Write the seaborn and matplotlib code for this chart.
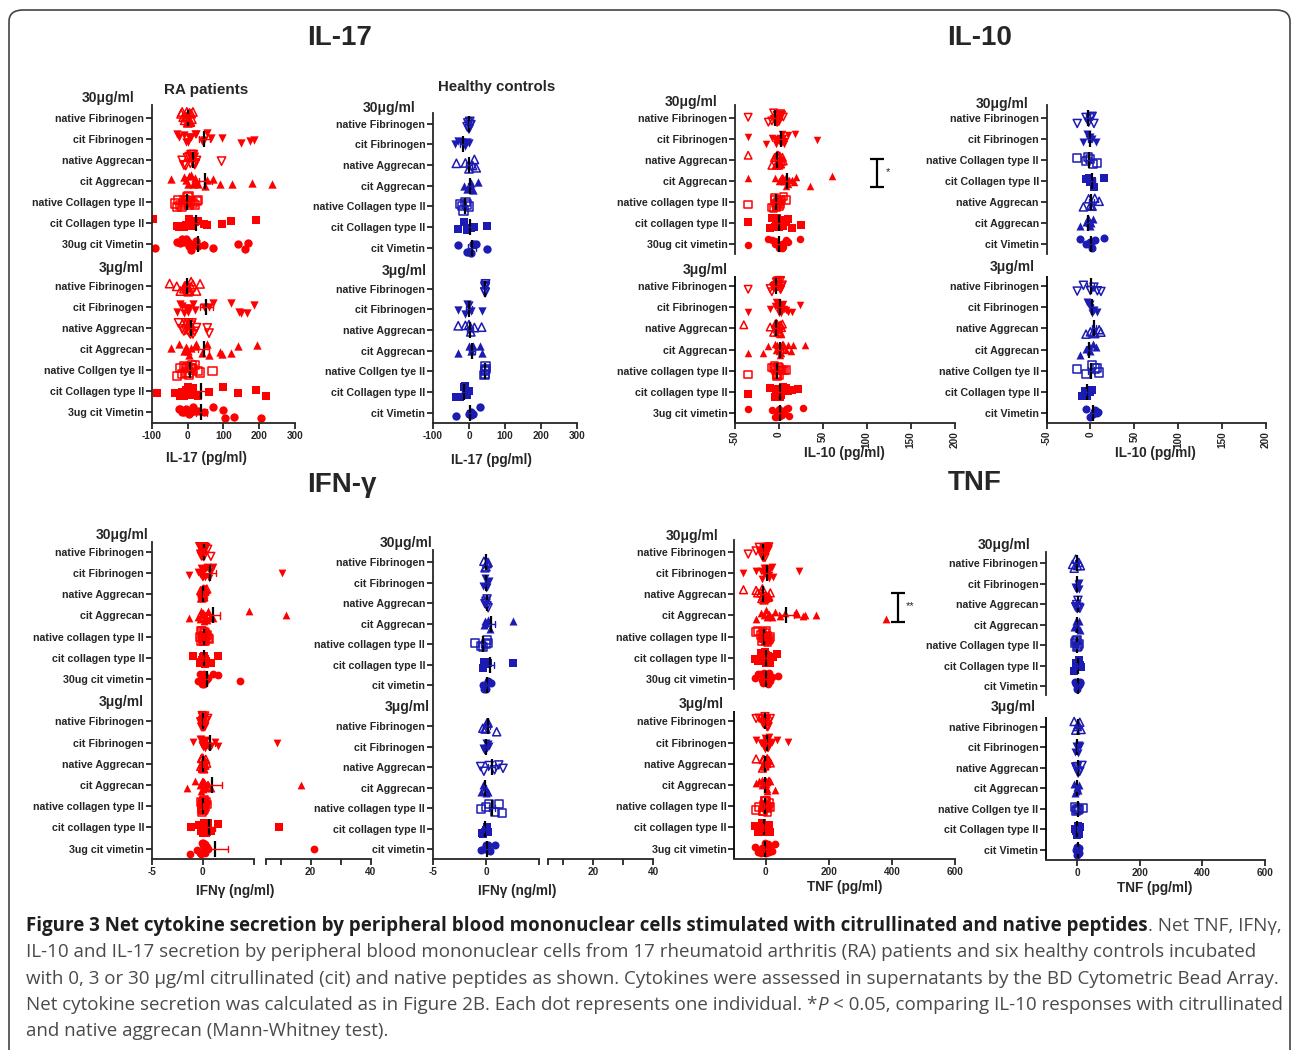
import numpy as np
import pandas as pd
import matplotlib
matplotlib.use("Agg")
import matplotlib.pyplot as plt
import seaborn as sns
from matplotlib.patches import FancyBboxPatch

sns.set_style("ticks")
plt.rcParams["font.family"] = ["Liberation Sans", "DejaVu Sans"]
np.random.seed(11)  # only for the strip jitter

W, H = 1293, 1050
RED = "#ff0000"
BLUE = "#1c1cb4"

# ---------------- row labels ----------------
il17_ra_labels = ["native Fibrinogen", "cit Fibrinogen", "native Aggrecan", "cit Aggrecan",
                  "native Collagen type II", "cit Collagen type II", "30ug cit Vimetin",
                  "native Fibrinogen", "cit Fibrinogen", "native Aggrecan", "cit Aggrecan",
                  "native Collgen tye II", "cit Collagen type II", "3ug cit Vimetin"]
il17_hc_labels = ["native Fibrinogen", "cit Fibrinogen", "native Aggrecan", "cit Aggrecan",
                  "native Collagen type II", "cit Collagen type II", "cit Vimetin",
                  "native Fibrinogen", "cit Fibrinogen", "native Aggrecan", "cit Aggrecan",
                  "native Collgen tye II", "cit Collagen type II", "cit Vimetin"]
il10_ra_labels = ["native Fibrinogen", "cit Fibrinogen", "native Aggrecan", "cit Aggrecan",
                  "native collagen type II", "cit collagen type II", "30ug cit vimetin",
                  "native Fibrinogen", "cit Fibrinogen", "native Aggrecan", "cit Aggrecan",
                  "native collagen type II", "cit collagen type II", "3ug cit vimetin"]
il10_hc_labels = ["native Fibrinogen", "cit Fibrinogen", "native Collagen type II", "cit Collagen type II",
                  "native Aggrecan", "cit Aggrecan", "cit Vimetin",
                  "native Fibrinogen", "cit Fibrinogen", "native Aggrecan", "cit Aggrecan",
                  "native Collgen tye II", "cit Collagen type II", "cit Vimetin"]
ifn_ra_labels = ["native Fibrinogen", "cit Fibrinogen", "native Aggrecan", "cit Aggrecan",
                 "native collagen type II", "cit collagen type II", "30ug cit vimetin",
                 "native Fibrinogen", "cit Fibrinogen", "native Aggrecan", "cit Aggrecan",
                 "native collagen type II", "cit collagen type II", "3ug cit vimetin"]
ifn_hc_labels = ["native Fibrinogen", "cit Fibrinogen", "native Aggrecan", "cit Aggrecan",
                 "native collagen type II", "cit collagen type II", "cit vimetin",
                 "native Fibrinogen", "cit Fibrinogen", "native Aggrecan", "cit Aggrecan",
                 "native collagen type II", "cit collagen type II", "cit vimetin"]
tnf_ra_labels = ["native Fibrinogen", "cit Fibrinogen", "native Aggrecan", "cit Aggrecan",
                 "native collagen type II", "cit collagen type II", "30ug cit vimetin",
                 "native Fibrinogen", "cit Fibrinogen", "native Aggrecan", "cit Aggrecan",
                 "native collagen type II", "cit collagen type II", "3ug cit vimetin"]
tnf_hc_labels = ["native Fibrinogen", "cit Fibrinogen", "native Aggrecan", "cit Aggrecan",
                 "native Collagen type II", "cit Collagen type II", "cit Vimetin",
                 "native Fibrinogen", "cit Fibrinogen", "native Aggrecan", "cit Aggrecan",
                 "native Collgen tye II", "cit Collagen type II", "cit Vimetin"]

# ---------------- values (rows 0-6 = 30 ug/ml, rows 7-13 = 3 ug/ml) ----------------
# IL-17, pg/ml, RA patients
il17_ra = [
    [-18, -15, -12, -8, -5, -3, -2, 0, 1, 2, 4, 5, 6, 8, 10, 12, 15],
    [-30, -25, -10, -5, 0, 5, 10, 20, 25, 40, 45, 55, 65, 95, 150, 175, 185],
    [-15, -10, -5, 0, 5, 8, 10, 12, 14, 15, 16, 18, 19, 20, 22, 25, 95],
    [-45, -10, -5, 0, 5, 10, 15, 20, 25, 30, 50, 55, 70, 90, 125, 180, 235],
    [-35, -30, -25, -20, -15, -10, -8, -5, -3, 0, 3, 5, 10, 15, 20, 25, 30],
    [-95, -30, -25, -20, -10, -5, 0, 5, 10, 15, 20, 30, 45, 55, 95, 120, 190],
    [-90, -30, -20, -15, -10, -5, 0, 5, 10, 15, 25, 30, 45, 70, 140, 160, 170],
    [-50, -30, -20, -10, -8, -5, -3, 0, 0, 2, 5, 5, 10, 10, 15, 25, 35],
    [-30, -20, -15, -10, -5, 0, 5, 15, 20, 45, 60, 70, 120, 145, 150, 165, 185],
    [-25, -15, -10, -5, -5, 0, 2, 3, 5, 8, 10, 12, 15, 20, 25, 55, 60],
    [-45, -25, -10, -5, 0, 5, 10, 20, 25, 40, 55, 60, 90, 95, 120, 140, 195],
    [-30, -20, -15, -10, -5, -5, 0, 3, 5, 8, 10, 12, 15, 20, 30, 35, 70],
    [-85, -35, -20, -15, -10, -5, 0, 5, 10, 15, 20, 30, 60, 100, 140, 190, 220],
    [-25, -20, -15, -10, -5, 0, 5, 10, 15, 20, 30, 45, 70, 100, 105, 130, 205],
]
# IL-17, pg/ml, healthy controls
il17_hc = [
    [-5, -3, 0, 2, 3, 5],
    [-40, -30, -20, -10, -5, 0],
    [-35, -10, 0, 10, 15, 20],
    [-15, -5, 0, 5, 10, 25],
    [-25, -20, -15, -10, -5, 0],
    [-30, -15, -5, 5, 15, 50],
    [-30, -5, 5, 10, 20, 50],
    [44, 45, 45, 45, 46, 45],
    [-30, -10, -5, 0, 5, 35],
    [-30, -10, 0, 5, 15, 35],
    [-30, 0, 5, 10, 30, 35],
    [43, 44, 45, 45, 46, 47],
    [-35, -25, -15, -10, -5, 0],
    [-35, 0, 5, 5, 10, 30],
]
# IL-10, pg/ml, RA patients
il10_ra = [
    [-35, -12, -8, -5, -4, -3, -2, -1, 0, 0, 1, 2, 3, 5, -6, -3, -2],
    [-35, -15, -8, -5, -3, 0, 2, 3, 5, 7, 10, 18, 43, -2, 1, 4, 6],
    [-35, -8, -5, -4, -3, -2, -1, 0, 1, 2, 3, 4, 5, -2, 0, 1, -1],
    [-35, -5, 0, 2, 5, 6, 8, 10, 12, 15, 17, 20, 35, 60, 5, 8, 3],
    [-35, -8, -6, -5, -4, -3, -2, 0, 2, 5, 8, -3, -1, 1, 3, -5, -2],
    [-35, -10, -8, -5, -2, 0, 2, 5, 8, 10, 15, 25, -3, 0, 3, 1, -1],
    [-35, -12, -8, -5, -3, 0, 2, 4, 6, 8, 10, 24, -2, 1, 3, -4, 5],
    [-35, -10, -8, -6, -4, -2, 0, 2, 3, 4, -3, -1, 1, -5, 0, 2, -2],
    [-35, -10, -5, 0, 2, 4, 6, 8, 10, 15, 24, -3, 1, 3, 5, -2, 0],
    [-40, -10, -6, -4, -3, -2, -1, 0, 1, 2, 3, 4, -2, 0, 1, -3, 2],
    [-35, -18, -12, -5, 0, 2, 5, 8, 10, 14, 16, 30, -3, 1, 4, -2, 3],
    [-35, -8, -6, -4, -2, 0, 2, 4, 6, 8, -3, -1, 1, -5, 0, 3, -2],
    [-35, -10, -5, -2, 0, 2, 5, 8, 10, 12, 15, 22, -3, 1, 3, -1, 4],
    [-35, -8, -5, -3, 0, 2, 4, 6, 8, 10, 12, 28, -2, 1, 3, 5, -1],
]
# IL-10, pg/ml, healthy controls
il10_hc = [
    [-15, -5, -2, 0, 2, 4],
    [-8, -4, -2, 0, 2, 6],
    [-15, -5, -3, 0, 3, 8],
    [-5, -2, 0, 2, 4, 15],
    [-8, -2, 0, 2, 5, 10],
    [-12, -5, -3, -1, 1, 3],
    [-12, -5, 0, 2, 5, 15],
    [-15, -8, 0, 4, 8, 12],
    [-4, -2, 0, 2, 4, 8],
    [-5, 0, 3, 5, 10, 12],
    [-12, -5, -2, 0, 3, 6],
    [-15, -5, 2, 5, 8, 10],
    [-10, -6, -4, -2, 0, 2],
    [-5, 0, 3, 5, 8, 9],
]
# IFN-gamma, ng/ml, RA patients
ifn_ra = [
    [-0.3, -0.2, -0.1, 0, 0, 0.1, 0.2, 0.3, 0.5, 0.8, -0.1, 0, 0.1, 0.2, 0, -0.2, 0.1],
    [-1.3, -0.5, -0.3, -0.1, 0, 0.1, 0.2, 0.4, 0.6, 0.8, 1.0, 10.3, -0.2, 0, 0.3, 0.5, -0.1],
    [-0.2, -0.1, 0, 0, 0.1, 0.2, 0.3, 0.4, -0.1, 0, 0.1, 0.2, -0.05, 0, 0.1, 0.05, 0],
    [-1.3, -0.5, -0.2, 0, 0.1, 0.2, 0.3, 0.5, 0.7, 1.0, 4.5, 11.7, -0.1, 0, 0.2, 0.4, -0.3],
    [-0.3, -0.2, 0, 0, 0.1, 0.2, 0.3, 0.5, 0.6, -0.1, 0, 0.1, 0.2, -0.2, 0, 0.1, 0.4],
    [-1.0, -0.3, -0.1, 0, 0.1, 0.2, 0.4, 0.6, 0.8, 1.5, -0.2, 0, 0.1, 0.3, -0.1, 0, 0.2],
    [-0.5, -0.3, -0.1, 0, 0.1, 0.2, 0.3, 0.5, 1.0, 1.5, 3.7, -0.2, 0, 0.1, -0.1, 0.2, 0],
    [-0.2, -0.1, 0, 0, 0.1, 0.2, 0.3, 0.5, -0.1, 0, 0.1, 0.2, 0, 0.1, -0.05, 0.05, 0],
    [-1.0, -0.3, -0.1, 0, 0.1, 0.3, 0.5, 0.8, 1.2, 1.5, 8.9, -0.2, 0, 0.2, 0.4, -0.1, 0.1],
    [-0.2, -0.1, 0, 0, 0.1, 0.2, 0.4, -0.1, 0, 0.1, 0.2, 0, 0.1, -0.05, 0.05, 0, 0.3],
    [-1.5, -0.8, -0.3, -0.1, 0, 0.1, 0.3, 0.5, 0.8, 16.7, -0.2, 0, 0.2, 0.4, -0.1, 0.1, 0],
    [-0.2, -0.1, 0, 0, 0.1, 0.2, 0.3, 0.4, -0.1, 0, 0.1, 0.2, 0, 0.1, 0, 0.05, -0.05],
    [-1.1, -0.4, -0.2, 0, 0.1, 0.3, 0.5, 0.8, 1.5, 9.3, -0.1, 0, 0.2, 0.4, -0.2, 0.1, 0],
    [-1.2, -0.6, -0.2, 0, 0.1, 0.2, 0.3, 0.5, 21.0, -0.1, 0, 0.2, 0.4, -0.3, 0.1, 0, 0.2],
]
# IFN-gamma, ng/ml, healthy controls
ifn_hc = [
    [-0.2, -0.1, 0, 0.1, 0.2, 0.1],
    [-0.3, -0.1, 0, 0.1, 0.2, 0.3],
    [-0.1, 0, 0, 0.1, 0.1, 0.2],
    [-0.2, -0.1, 0, 0.2, 0.4, 2.5],
    [-1.0, -0.5, -0.3, 0, 0.1, 0.2],
    [-0.3, -0.2, -0.1, 0, 0.2, 2.5],
    [-0.3, -0.2, 0, 0.2, 0.3, 0.5],
    [-0.3, -0.1, 0, 0.1, 0.2, 1.0],
    [-0.3, -0.2, 0, 0.1, 0.2, 0.3],
    [-0.5, -0.2, 0.3, 0.8, 1.2, 1.6],
    [-0.5, -0.3, -0.1, 0, 0.1, 0.2],
    [-0.5, 0, 0.3, 0.8, 1.2, 1.5],
    [-0.4, -0.3, -0.1, 0, 0.1, 0.2],
    [-0.5, -0.2, 0, 0.2, 0.4, 0.8],
]
# TNF, pg/ml, RA patients
tnf_ra = [
    [-55, -30, -20, -15, -10, -8, -5, -3, 0, 2, 5, 8, 10, -12, -2, 3, -6],
    [-70, -30, -15, -10, -5, 0, 5, 10, 15, 20, 25, 105, -8, 2, 8, -3, 12],
    [-70, -30, -25, -15, -10, -5, 0, 5, 10, 15, -8, -2, 3, -12, 8, 2, -5],
    [-30, -15, -5, 0, 10, 20, 30, 45, 60, 95, 100, 120, 125, 160, 380, 5, 15],
    [-30, -25, -15, -10, -5, 0, 2, 5, 8, 10, 15, -8, -2, 3, -12, 6, -3],
    [-35, -25, -15, -10, -5, 0, 5, 10, 15, 25, 35, -8, -2, 3, 8, -3, 2],
    [-35, -25, -15, -10, -5, 0, 5, 10, 15, 20, 40, -8, -2, 3, 8, -3, 2],
    [-30, -20, -10, -5, 0, 2, 5, 8, 10, 15, -8, -2, 3, -12, 6, -3, 1],
    [-30, -15, -8, -5, 0, 5, 10, 15, 20, 35, 70, -3, 2, 8, -10, 4, -2],
    [-30, -10, -5, 0, 3, 5, 8, 10, 15, -8, -2, 3, -3, 6, 1, -1, 2],
    [-30, -20, -10, -5, 0, 5, 10, 15, 30, -8, -2, 3, -12, 6, -3, 1, 8],
    [-30, -20, -10, -5, 0, 3, 5, 8, 10, 15, -8, -2, 3, -3, 6, 1, -1],
    [-35, -25, -15, -10, -5, 0, 5, 10, 15, -8, -2, 3, 8, -3, 2, 12, -12],
    [-35, -25, -15, -10, -5, 0, 5, 10, 15, 20, 30, -8, -2, 3, 8, -3, 2],
]
# TNF, pg/ml, healthy controls
tnf_hc = [
    [-15, -10, -5, 0, 5, 10],
    [-8, -4, 0, 2, 4, 6],
    [-5, -2, 0, 2, 5, 8],
    [-10, -5, 0, 2, 5, 10],
    [-8, -4, -2, 0, 2, 4],
    [-10, -5, 0, 5, 8, 12],
    [-8, -4, 0, 4, 8, 10],
    [-10, -5, 0, 3, 8, 12],
    [-8, -4, 0, 2, 5, 8],
    [-5, -2, 0, 3, 8, 15],
    [-10, -6, -3, 0, 2, 5],
    [-6, -3, 0, 2, 5, 18],
    [-8, -4, -1, 2, 5, 8],
    [-5, -2, 0, 2, 5, 6],
]

# significance brackets: (first row, second row, x position, text)
il10_sig = (2, 3, 112, "*")
tnf_sig = (2, 3, 419, "**")

caption_bold = ("Figure 3 Net cytokine secretion by peripheral blood mononuclear cells "
                "stimulated with citrullinated and native peptides")
caption_lines = [
    ". Net TNF, IFNγ,",
    "IL-10 and IL-17 secretion by peripheral blood mononuclear cells from 17 rheumatoid "
    "arthritis (RA) patients and six healthy controls incubated",
    "with 0, 3 or 30 μg/ml citrullinated (cit) and native peptides as shown. Cytokines were "
    "assessed in supernatants by the BD Cytometric Bead Array.",
    "Net cytokine secretion was calculated as in Figure 2B. Each dot represents one individual. *",
    "and native aggrecan (Mann-Whitney test).",
]
caption_italic = "P"
caption_after = "< 0.05, comparing IL-10 responses with citrullinated"

# marker codes: letter = shape, trailing "o" = hollow
m_a = ["^o", "v", "vo", "^", "so", "s", "o"] * 2
m_b = ["vo", "v", "^o", "^", "so", "s", "o"] * 2
m_c = ["vo", "v", "so", "s", "^o", "^", "o", "vo", "v", "^o", "^", "so", "s", "o"]
m_d = ["^o", "v", "vo", "^", "so", "s", "o"] * 2

ORDER = [f"r{i}" for i in range(7)] + ["gap"] + [f"r{i}" for i in range(7, 14)]
TICKS = [i for i in range(15) if i != 7]
XTICK_FS = 7.2

fig = plt.figure(figsize=(W / 100, H / 100), dpi=100)


def px_box(l, t, r, b):
    return [l / W, 1 - b / H, (r - l) / W, (b - t) / H]


def long_frame(values):
    return pd.DataFrame({"row": [f"r{i}" for i, vals in enumerate(values) for _ in vals],
                         "value": [v for vals in values for v in vals]})


def strips(ax, df, markers, color, size):
    for i, m in enumerate(markers):
        hollow = len(m) == 2
        sns.stripplot(data=df[df["row"] == f"r{i}"], x="value", y="row", order=ORDER,
                      orient="h", ax=ax, jitter=0.28, size=size, marker=m[0], color=color,
                      facecolor="none" if hollow else color, edgecolor=color,
                      linewidth=1.1 if hollow else 0, zorder=2)


def means(ax, df, color):
    sns.pointplot(data=df, x="value", y="row", order=ORDER, orient="h", ax=ax,
                  errorbar="se", color="black", markers="|", markersize=12,
                  markeredgewidth=1.6, linestyle="none", capsize=0.3,
                  err_kws={"color": color, "linewidth": 1.0}, zorder=4)


def style_axis(ax, labels, ylim):
    ax.set_ylim(ylim)
    ax.set_yticks(TICKS)
    ax.set_yticklabels(labels, fontsize=7.7, fontweight="bold")
    ax.set_xlabel("")
    ax.set_ylabel("")
    for s in ["top", "right"]:
        ax.spines[s].set_visible(False)
    for s in ["left", "bottom"]:
        ax.spines[s].set_linewidth(1.3)
    ax.tick_params(axis="both", length=4, width=1.1, pad=1.5, color="black")


def headers(ax, spec):
    off30, y30, off3, y3 = spec
    for txt, off, y in [("30μg/ml", off30, y30), ("3μg/ml", off3, y3)]:
        ax.annotate(txt, xy=(0, y), xycoords=ax.get_yaxis_transform(),
                    xytext=(-off * 0.72, 0), textcoords="offset points",
                    ha="right", va="center", fontsize=10, fontweight="bold")


def split_spine(ax, ylim, gap=(6.45, 7.5)):
    ax.spines["left"].set_bounds(ylim[1], gap[0])
    ax.plot([0, 0], [gap[1], ylim[0]], transform=ax.get_yaxis_transform(),
            color="black", lw=1.3, clip_on=False, solid_capstyle="butt")


def sig_bracket(ax, sig):
    r0, r1, x, txt = sig
    y0, y1 = r0 - 0.05, r1 + 0.3
    ax.errorbar(x, (y0 + y1) / 2, yerr=(y1 - y0) / 2, fmt="none", ecolor="black",
                elinewidth=1.6, capsize=5, capthick=1.6, clip_on=False)
    ax.annotate(txt, xy=(x, (y0 + y1) / 2), xytext=(6, 1), textcoords="offset points",
                fontsize=8, va="center")


def panel(box, values, labels, markers, color, size, xlim, xticks, ylim, head,
          rotate=False, broken=False, sig=None):
    ax = fig.add_axes(px_box(*box))
    df = long_frame(values)
    strips(ax, df, markers, color, size)
    means(ax, df, color)
    style_axis(ax, labels, ylim)
    ax.set_xlim(xlim)
    ax.set_xticks(xticks, [str(t) for t in xticks], fontsize=XTICK_FS, fontweight="bold",
                  rotation=90 if rotate else 0)
    headers(ax, head)
    if broken:
        split_spine(ax, ylim)
    if sig is not None:
        sig_bracket(ax, sig)
    return ax


def ifn_panel(box_l, box_r, values, labels, markers, color, size, ylim, head):
    axl = fig.add_axes(px_box(*box_l))
    axr = fig.add_axes(px_box(*box_r))
    df = long_frame(values)
    strips(axl, df, markers, color, size)
    strips(axr, df[df["value"] > 6], markers, color, size)
    means(axl, df, color)
    style_axis(axl, labels, ylim)
    axl.set_xlim(-5, 5)
    axl.set_xticks([-5, 0, 5], ["-5", "0", ""], fontsize=XTICK_FS, fontweight="bold")
    headers(axl, head)
    style_axis(axr, [""] * 14, ylim)
    axr.set_yticks([])
    axr.spines["left"].set_visible(False)
    axr.set_xlim(5, 40)
    axr.set_xticks([5, 10, 20, 30, 40], ["", "", "20", "", "40"], fontsize=XTICK_FS,
                   fontweight="bold")


# ---------------- panels ----------------
panel((151.7, 105, 295, 423), il17_ra, il17_ra_labels, m_a, RED, 6,
      (-100, 300), [-100, 0, 100, 200, 300], (14.5, -0.6), (17, -0.92, 8, 7.15))
panel((433, 113, 577, 423), il17_hc, il17_hc_labels, m_b, BLUE, 6,
      (-100, 300), [-100, 0, 100, 200, 300], (14.5, -0.52), (18, -0.78, 6, 7.15))
panel((735, 105, 954.5, 423.3), il10_ra, il10_ra_labels, m_b, RED, 5.4,
      (-50, 200), [-50, 0, 50, 100, 150, 200], (14.5, -0.6), (18, -0.75, 7, 7.25),
      rotate=True, broken=True, sig=il10_sig)
panel((1046.5, 105, 1266, 423.3), il10_hc, il10_hc_labels, m_c, BLUE, 5.8,
      (-50, 200), [-50, 0, 50, 100, 150, 200], (14.5, -0.6), (18, -0.63, 12, 7.1),
      rotate=True, broken=True)
ifn_panel((151.7, 541.7, 253.7, 859.3), (265.7, 541.7, 370.7, 859.3), ifn_ra, ifn_ra_labels,
          m_b, RED, 5.6, (14.5, -0.47), (3, -0.79, 8, 7.09))
ifn_panel((432.7, 550, 539.3, 859.3), (548.3, 550, 653.3, 859.3), ifn_hc, ifn_hc_labels,
          m_d, BLUE, 5.8, (14.5, -0.6), (0, -0.96, 3, 7.06))
panel((734, 540, 955, 859.3), tnf_ra, tnf_ra_labels, m_b, RED, 5.6,
      (-100, 600), [0, 200, 400, 600], (14.5, -0.55), (16, -0.75, 10, 7.2),
      broken=True, sig=tnf_sig)
panel((1046, 551.7, 1265, 860), tnf_hc, tnf_hc_labels, m_d, BLUE, 5.8,
      (-100, 600), [0, 200, 400, 600], (14.5, -0.57), (16, -0.9, 10, 7.0), broken=True)


def ftext(x, y, s, **kw):
    return fig.text(x / W, 1 - y / H, s, **kw)


# titles, group names, axis titles
for x, y, s in [(340, 38, "IL-17"), (980, 38, "IL-10"), (342, 485, "IFN-γ"), (975, 483, "TNF")]:
    ftext(x, y, s, fontsize=20, fontweight="bold", ha="center", va="center")
ftext(206, 90, "RA patients", fontsize=11, fontweight="bold", ha="center", va="center")
ftext(497, 87, "Healthy controls", fontsize=10.8, fontweight="bold", ha="center", va="center")
for x, y, s in [(206, 458, "IL-17 (pg/ml)"), (491, 460, "IL-17 (pg/ml)"),
                (844, 453, "IL-10 (pg/ml)"), (1155, 453, "IL-10 (pg/ml)"),
                (235, 891, "IFNγ (ng/ml)"), (517, 891, "IFNγ (ng/ml)"),
                (845, 887, "TNF (pg/ml)"), (1155, 888, "TNF (pg/ml)")]:
    ftext(x, y, s, fontsize=9.8, fontweight="bold", ha="center", va="center")

# ---------------- caption ----------------
CAP = ["Open Sans", "DejaVu Sans"]
renderer = fig.canvas.get_renderer()
probe = ftext(26, 984, caption_lines[2], fontsize=12, family=CAP)
fs = 12 * 1248 / probe.get_window_extent(renderer).width
probe.remove()

baselines = [931, 957, 984, 1010, 1036]
x0 = 26
bold = ftext(x0, baselines[0], caption_bold, fontsize=fs, family=CAP, fontweight="bold",
             color="#1e1e1e", va="baseline")
wb = bold.get_window_extent(renderer).width
ftext(x0 + wb, baselines[0], caption_lines[0], fontsize=fs, family=CAP, color="#4a4a4a",
      va="baseline")
for i in (1, 2, 4):
    ftext(x0, baselines[i], caption_lines[i], fontsize=fs, family=CAP, color="#4a4a4a",
          va="baseline")
t4 = ftext(x0, baselines[3], caption_lines[3], fontsize=fs, family=CAP, color="#4a4a4a",
           va="baseline")
w4 = t4.get_window_extent(renderer).width
tp = ftext(x0 + w4, baselines[3], caption_italic, fontsize=fs, family=CAP, style="italic",
           color="#4a4a4a", va="baseline")
wp = tp.get_window_extent(renderer).width
sp1 = ftext(0, 0, "a a", fontsize=fs, family=CAP)
sp2 = ftext(0, 0, "aa", fontsize=fs, family=CAP)
space = sp1.get_window_extent(renderer).width - sp2.get_window_extent(renderer).width
sp1.remove()
sp2.remove()
ftext(x0 + w4 + wp + space, baselines[3], caption_after, fontsize=fs, family=CAP,
      color="#4a4a4a", va="baseline")

# rounded frame around the figure
frame = FancyBboxPatch((9 / W, -0.05), (1290 - 9) / W, 1 - 10 / H + 0.05,
                       boxstyle="round,pad=0,rounding_size=0.011",
                       transform=fig.transFigure, fill=False, edgecolor="#444444", lw=1.2)
fig.add_artist(frame)

fig.savefig("out.png", dpi=100)
